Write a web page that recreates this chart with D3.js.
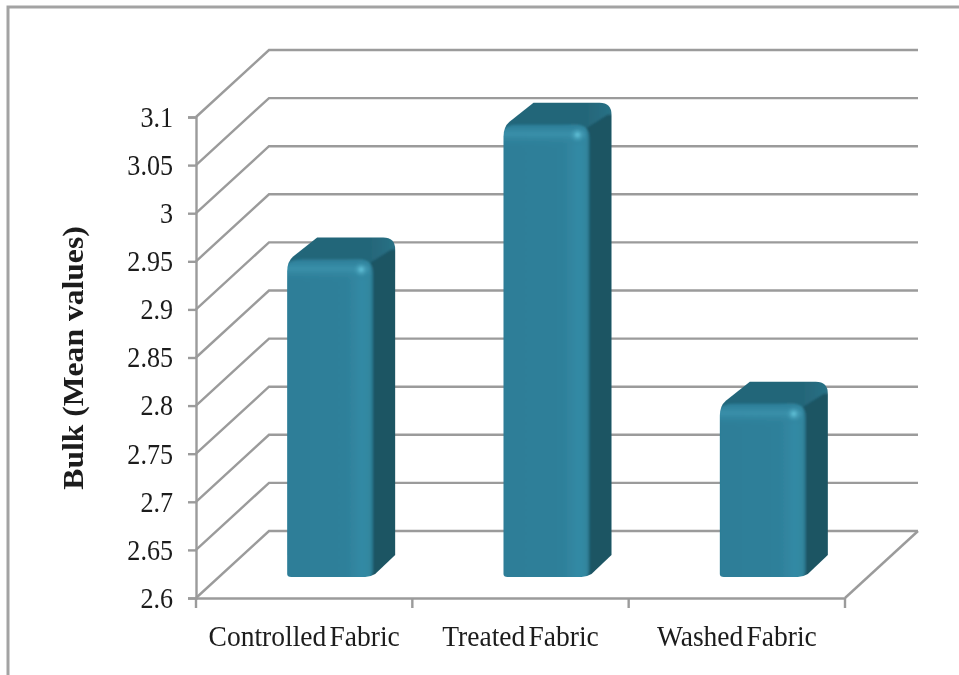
<!DOCTYPE html>
<html>
<head>
<meta charset="utf-8">
<script src="https://cdn.jsdelivr.net/npm/d3@7/dist/d3.min.js"></script>
<style>
  html, body { margin: 0; padding: 0; background: #fff; }
  svg { display: block; }
  text { font-family: "Liberation Serif", serif; fill: #1a1a1a; }
</style>
</head>
<body>
<svg id="chart" width="959" height="675"></svg>
<script>
const categories = ["Controlled Fabric", "Treated Fabric", "Washed Fabric"];
const bulkValues = [2.93, 3.07, 2.78];
const yTicks = [2.6, 2.65, 2.7, 2.75, 2.8, 2.85, 2.9, 2.95, 3, 3.05, 3.1];

const width = 959, height = 675;
const axisX = 196, axisRight = 845, axisBottom = 598, axisTop = 117;
// 3d wall offset and how far the bars sit inside the floor
const wallDx = 73, wallDy = -67;
const barDx = 26, barDy = -21, barDepth = 22;
const gridColor = "#9b9b9b";

const svg = d3.select("#chart");

const defs = svg.append("defs");
defs.append("filter").attr("id", "soft")
  .attr("x", "-5%").attr("y", "-5%").attr("width", "110%").attr("height", "110%")
  .append("feGaussianBlur").attr("stdDeviation", 0.6);

defs.append("filter").attr("id", "barBlur")
  .attr("x", "-10%").attr("y", "-10%").attr("width", "120%").attr("height", "120%")
  .append("feGaussianBlur").attr("stdDeviation", 1.3);

let frontGrad = defs.append("linearGradient").attr("id", "frontGrad");
[[0, "#2a7690"], [0.06, "#2d7e98"], [0.7, "#2e809a"], [0.88, "#338aa5"], [0.96, "#31879f"], [1, "#2a7289"]]
  .forEach(s => frontGrad.append("stop").attr("offset", s[0]).attr("stop-color", s[1]));

let bevelGrad = defs.append("linearGradient").attr("id", "bevelGrad").attr("x2", 0).attr("y2", 1);
[[0, "#2d7f99", 1], [0.4, "#3a90aa", 1], [1, "#2e809a", 0]]
  .forEach(s => bevelGrad.append("stop").attr("offset", s[0]).attr("stop-color", s[1]).attr("stop-opacity", s[2]));

let topGrad = defs.append("linearGradient").attr("id", "topGrad");
[[0, "#24667a"], [0.75, "#246679"], [1, "#2a7388"]]
  .forEach(s => topGrad.append("stop").attr("offset", s[0]).attr("stop-color", s[1]));

let glow = defs.append("radialGradient").attr("id", "glow");
glow.append("stop").attr("offset", 0).attr("stop-color", "#66c8de");
glow.append("stop").attr("offset", 1).attr("stop-color", "#3a90aa").attr("stop-opacity", 0);

const x = d3.scaleBand().domain(categories).range([axisX, axisRight]);
const y = d3.scaleLinear().domain([2.6, 3.1]).range([axisBottom, axisTop]);

const root = svg.append("g").attr("filter", "url(#soft)");

// frame around the chart, runs off the image on the right and bottom
root.append("path")
  .attr("d", `M8,${height} V7 H${width}`)
  .attr("fill", "none").attr("stroke", "#a3a3a3").attr("stroke-width", 3);

// walls
root.append("g").selectAll("path").data(yTicks).join("path")
  .attr("d", d => `M${axisX},${y(d)} l${wallDx},${wallDy} H${axisRight + wallDx}`)
  .attr("fill", "none").attr("stroke", gridColor).attr("stroke-width", 2.4);

// floor edge on the right
root.append("path")
  .attr("d", `M${axisRight},${axisBottom} l${wallDx},${wallDy}`)
  .attr("fill", "none").attr("stroke", gridColor).attr("stroke-width", 2.4);

// bars
const bars = root.append("g").selectAll("g").data(categories).join("g");

bars.each(function(c, i) {
  const bw = 86;
  const x0 = x(c) + (x.bandwidth() - bw) / 2 + barDx;
  const x1 = x0 + bw;
  const y0 = y(bulkValues[i]) + barDy;
  const y1 = y(2.6) + barDy;
  const d = barDepth;

  // whole outline of the box, the soft faces get clipped to this
  defs.append("clipPath").attr("id", "barClip" + i).append("path")
    .attr("d", `M${x0},${y1 - 3} Q${x0},${y1} ${x0 + 4},${y1} H${x1 - 8} Q${x1 - 3},${y1} ${x1 + 2},${y1 - 3}
      L${x1 + d},${y1 - d} V${y0 - d + 12} Q${x1 + d},${y0 - d} ${x1 + d - 12},${y0 - d}
      H${x0 + 30} L${x0 + 6},${y0 - 3} Q${x0},${y0 + 2} ${x0},${y0 + 12} Z`);

  const g = d3.select(this).append("g").attr("clip-path", `url(#barClip${i})`)
    .append("g").attr("filter", "url(#barBlur)");

  // top
  g.append("rect")
    .attr("x", x0 - 4).attr("y", y0 - d - 4)
    .attr("width", bw + d + 8).attr("height", d + 30)
    .attr("fill", "url(#topGrad)");

  // side
  g.append("path")
    .attr("d", `M${x1 - 4},${y0 + 4} L${x1 + d - 4},${y0 - d + 12} H${x1 + d + 6} V${y1 - d + 6} L${x1 + 6},${y1 + 6} H${x1 - 10} Z`)
    .attr("fill", "#1d5464");

  // front
  g.append("path")
    .attr("d", `M${x0 - 4},${y1 + 6} V${y0 + 14} Q${x0 - 4},${y0} ${x0 + 14},${y0}
      H${x1 - 14} Q${x1},${y0} ${x1},${y0 + 14} V${y1 - 6} Q${x1 - 2},${y1 + 6} ${x1 - 10},${y1 + 6} Z`)
    .attr("fill", "url(#frontGrad)");

  g.append("path")
    .attr("d", `M${x0 - 2},${y0 + 22} V${y0 + 13} Q${x0 - 2},${y0 + 1} ${x0 + 14},${y0 + 1}
      H${x1 - 14} Q${x1 - 3},${y0 + 1} ${x1 - 3},${y0 + 14} V${y0 + 22} Z`)
    .attr("fill", "url(#bevelGrad)");

  g.append("ellipse")
    .attr("cx", x1 - 12).attr("cy", y0 + 10).attr("rx", 8).attr("ry", 8)
    .attr("fill", "url(#glow)");
});

// axes
const yAxis = root.append("g")
  .attr("transform", `translate(${axisX},0)`)
  .call(d3.axisLeft(y).tickValues(yTicks).tickFormat(d3.format("~g")).tickSize(8));

const xAxis = root.append("g")
  .attr("transform", `translate(0,${axisBottom})`)
  .call(d3.axisBottom(x).tickSize(0));

// band ticks sit on the band edges, not the centres
xAxis.selectAll(".edge").data(d3.range(categories.length + 1)).join("line")
  .attr("class", "edge")
  .attr("x1", i => axisX + i * x.bandwidth()).attr("x2", i => axisX + i * x.bandwidth())
  .attr("y1", 0).attr("y2", 10);

root.selectAll(".domain, .tick line, .edge")
  .attr("stroke", gridColor).attr("stroke-width", 2.4);

// the original lettering is tall and narrow, so squeeze it sideways
yAxis.selectAll("text")
  .style("font-size", "30px")
  .attr("x", -23 / 0.87).attr("dy", "0.31em")
  .attr("transform", "scale(0.87,1)")
  .attr("fill", "#1a1a1a");

xAxis.selectAll("text")
  .style("font-size", "29px").style("word-spacing", "-4px")
  .attr("y", 48).attr("dy", 0)
  .attr("transform", "scale(0.95,1)")
  .attr("fill", "#1a1a1a");
xAxis.selectAll("g.tick text").attr("x", 0);

root.append("text")
  .attr("transform", "translate(83,358) rotate(-90) scale(1.09,1)")
  .attr("text-anchor", "middle")
  .style("font-size", "29px").style("font-weight", "bold")
  .text("Bulk (Mean values)");
</script>
</body>
</html>
